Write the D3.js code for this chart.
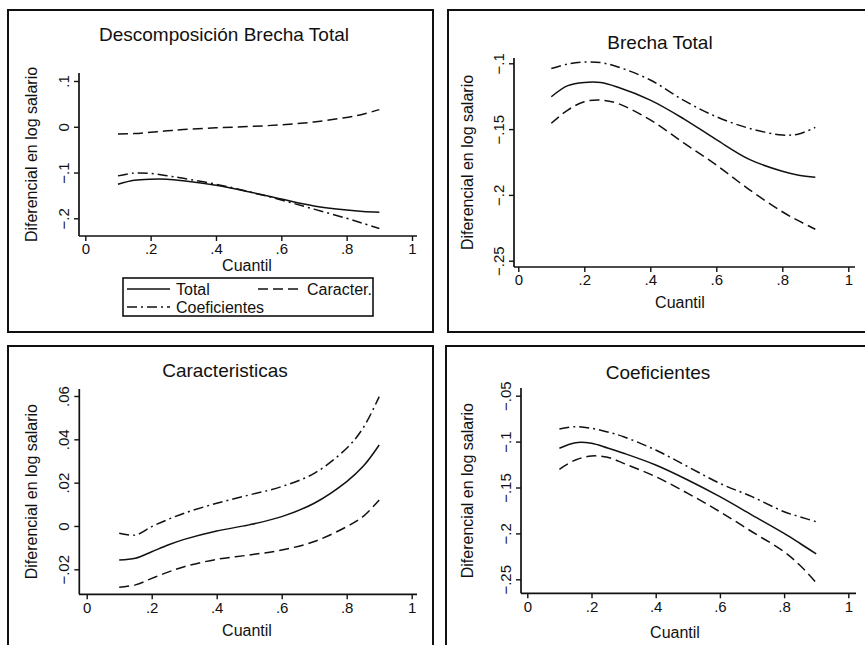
<!DOCTYPE html>
<html>
<head>
<meta charset="utf-8">
<script src="https://cdn.jsdelivr.net/npm/d3@7"></script>
<style>
  body { margin: 0; background: #fff; }
  text { font-family: "Liberation Sans", Arial, sans-serif; fill: #111; }
</style>
</head>
<body>
<div id="viz"></div>
<script>
// quantiles at which the curves were read
const quantiles = [0.1, 0.15, 0.2, 0.25, 0.3, 0.4, 0.5, 0.6, 0.7, 0.8, 0.85, 0.9];

// Brecha Total
const brechaEst   = [-0.1254, -0.117, -0.1145, -0.1146, -0.118, -0.128, -0.142, -0.158, -0.173, -0.182, -0.185, -0.1866];
const brechaUpper = [-0.104, -0.1005, -0.099, -0.0995, -0.1026, -0.1127, -0.128, -0.1406, -0.1494, -0.1545, -0.1537, -0.1487];
const brechaLower = [-0.1456, -0.1355, -0.1292, -0.128, -0.1304, -0.143, -0.1603, -0.1773, -0.196, -0.2128, -0.2198, -0.2261];

// Caracteristicas
const caracEst   = [-0.0157, -0.0149, -0.0119, -0.0088, -0.0062, -0.0023, 0.0005, 0.0043, 0.0105, 0.0205, 0.0274, 0.0374];
const caracUpper = [-0.0034, -0.0042, -0.0003, 0.003, 0.0059, 0.0105, 0.0143, 0.0182, 0.0243, 0.0359, 0.0451, 0.0597];
const caracLower = [-0.0283, -0.0272, -0.0242, -0.0213, -0.0188, -0.0154, -0.0134, -0.0111, -0.0072, -0.0003, 0.0043, 0.012];

// Coeficientes
const coefEst   = [-0.1073, -0.1012, -0.1019, -0.107, -0.1127, -0.1255, -0.1418, -0.16, -0.18, -0.2, -0.211, -0.2224];
const coefUpper = [-0.0863, -0.0838, -0.0855, -0.0895, -0.0947, -0.1092, -0.1273, -0.1455, -0.16, -0.1764, -0.182, -0.1873];
const coefLower = [-0.1302, -0.12, -0.1157, -0.1171, -0.1237, -0.1382, -0.1564, -0.1764, -0.1982, -0.22, -0.235, -0.2537];

// tick labels
const xTicks = [0, 0.2, 0.4, 0.6, 0.8, 1];
const yTicksDescomp = [-0.2, -0.1, 0, 0.1];
const yTicksBrecha = [-0.25, -0.2, -0.15, -0.1];
const yTicksCarac = [-0.02, 0, 0.02, 0.04, 0.06];
const yTicksCoef = [-0.25, -0.2, -0.15, -0.1, -0.05];

const legendLabels = ['Total', 'Caracter.', 'Coeficientes'];

const width = 865;
const height = 645;

const dashes = {
    solid: null,
    dash: '10,5',
    dashdot: '10,4,2,4'
};

const svg = d3.select('#viz')
    .append('svg')
    .attr('width', width)
    .attr('height', height);

function fmt(v) {
    // stata style: -.1, .05, 0
    if (v === 0) return '0';
    let s = Math.abs(v).toString().replace(/^0/, '');
    return (v < 0 ? '\u2212' : '') + s;
}

function buildPanel(p) {
    const g = svg.append('g');

    // frame
    g.append('rect')
        .attr('x', p.frame[0])
        .attr('y', p.frame[1])
        .attr('width', p.frame[2] - p.frame[0])
        .attr('height', p.frame[3] - p.frame[1])
        .attr('fill', 'none')
        .attr('stroke', '#111')
        .attr('stroke-width', 2);

    const x = d3.scaleLinear().domain([0, 1]).range(p.xRange);
    const y = d3.scaleLinear()
        .domain([p.yTicks[0], p.yTicks[p.yTicks.length - 1]])
        .range(p.yRange);

    // y axis
    const yAxis = d3.axisLeft(y)
        .tickValues(p.yTicks)
        .tickFormat(fmt)
        .tickSize(5)
        .tickSizeOuter(0);

    const ya = g.append('g')
        .attr('transform', `translate(${p.axisX},0)`)
        .call(yAxis);
    ya.select('.domain').remove();
    ya.selectAll('line').attr('stroke', '#111').attr('stroke-width', 1.4);
    ya.selectAll('text')
        .attr('transform', 'rotate(-90)')
        .attr('x', 0)
        .attr('y', -10)
        .attr('dy', 0)
        .attr('text-anchor', 'middle')
        .style('font-size', '15px')
        .style('font-family', '"Liberation Sans", Arial, sans-serif')
        .attr('fill', '#111');

    g.append('line')
        .attr('x1', p.axisX).attr('x2', p.axisX)
        .attr('y1', p.yLine[0]).attr('y2', p.yLine[1])
        .attr('stroke', '#111').attr('stroke-width', 1.7);

    // x axis
    const xAxis = d3.axisBottom(x)
        .tickValues(xTicks)
        .tickFormat(fmt)
        .tickSize(5)
        .tickSizeOuter(0);

    const xa = g.append('g')
        .attr('transform', `translate(0,${p.axisY})`)
        .call(xAxis);
    xa.select('.domain').remove();
    xa.selectAll('line').attr('stroke', '#111').attr('stroke-width', 1.4);
    xa.selectAll('text')
        .attr('y', 7)
        .attr('dy', '0.75em')
        .style('font-size', '15px')
        .style('font-family', '"Liberation Sans", Arial, sans-serif')
        .attr('fill', '#111');

    g.append('line')
        .attr('x1', p.xLine[0]).attr('x2', p.xLine[1])
        .attr('y1', p.axisY).attr('y2', p.axisY)
        .attr('stroke', '#111').attr('stroke-width', 1.7);

    // titles
    g.append('text')
        .attr('x', p.titlePos[0])
        .attr('y', p.titlePos[1])
        .attr('text-anchor', 'middle')
        .style('font-size', '19px')
        .text(p.title);

    g.append('text')
        .attr('x', p.cuantilPos[0])
        .attr('y', p.cuantilPos[1])
        .attr('text-anchor', 'middle')
        .style('font-size', '16px')
        .text('Cuantil');

    g.append('text')
        .attr('transform', `translate(${p.yTitleX},${(p.yLine[0] + p.yLine[1]) / 2}) rotate(-90)`)
        .attr('text-anchor', 'middle')
        .style('font-size', '16px')
        .text('Diferencial en log salario');

    const line = d3.line()
        .x(d => x(d[0]))
        .y(d => y(d[1]))
        .curve(d3.curveCatmullRom.alpha(0.5));

    p.series.forEach(s => {
        g.append('path')
            .datum(quantiles.map((q, i) => [q, s.values[i]]))
            .attr('fill', 'none')
            .attr('stroke', '#111')
            .attr('stroke-width', 1.5)
            .attr('stroke-dasharray', dashes[s.style])
            .attr('d', line);
    });

    return g;
}

const p1 = buildPanel({
    frame: [8, 10, 433, 332],
    title: 'Descomposición Brecha Total',
    titlePos: [224, 41],
    cuantilPos: [247, 271],
    yTitleX: 37,
    axisX: 79, yLine: [73, 236], yTicks: yTicksDescomp, yRange: [218.3, 81],
    axisY: 236, xLine: [79, 417], xRange: [85.3, 412],
    series: [
        { values: brechaEst, style: 'solid' },
        { values: caracEst, style: 'dash' },
        { values: coefEst, style: 'dashdot' }
    ]
});

// legend of the first panel
const legend = p1.append('g');
legend.append('rect')
    .attr('x', 123).attr('y', 278)
    .attr('width', 250).attr('height', 38)
    .attr('fill', 'none')
    .attr('stroke', '#111')
    .attr('stroke-width', 1.6);

const legendItems = [
    { label: legendLabels[0], style: 'solid', x: 127, y: 289 },
    { label: legendLabels[1], style: 'dash', x: 258, y: 289 },
    { label: legendLabels[2], style: 'dashdot', x: 127, y: 307 }
];
legendItems.forEach(d => {
    legend.append('line')
        .attr('x1', d.x).attr('x2', d.x + 43)
        .attr('y1', d.y).attr('y2', d.y)
        .attr('stroke', '#111')
        .attr('stroke-width', 1.5)
        .attr('stroke-dasharray', dashes[d.style]);
    legend.append('text')
        .attr('x', d.x + 49)
        .attr('y', d.y + 6)
        .style('font-size', '16px')
        .text(d.label);
});

buildPanel({
    frame: [448, 10, 872, 332],
    title: 'Brecha Total',
    titlePos: [660, 49],
    cuantilPos: [680, 308],
    yTitleX: 473,
    axisX: 514, yLine: [58, 267], yTicks: yTicksBrecha, yRange: [260.7, 63.3],
    axisY: 267, xLine: [514, 855], xRange: [518.3, 848.3],
    series: [
        { values: brechaEst, style: 'solid' },
        { values: brechaUpper, style: 'dashdot' },
        { values: brechaLower, style: 'dash' }
    ]
});

buildPanel({
    frame: [8, 346, 433, 652],
    title: 'Caracteristicas',
    titlePos: [225, 377],
    cuantilPos: [247, 636],
    yTitleX: 37,
    axisX: 79.3, yLine: [389, 594.3], yTicks: yTicksCarac, yRange: [569.3, 396],
    axisY: 594.3, xLine: [79, 417], xRange: [86.7, 411.7],
    series: [
        { values: caracEst, style: 'solid' },
        { values: caracUpper, style: 'dashdot' },
        { values: caracLower, style: 'dash' }
    ]
});

buildPanel({
    frame: [446, 346, 872, 652],
    title: 'Coeficientes',
    titlePos: [658, 379],
    cuantilPos: [675, 638],
    yTitleX: 473,
    axisX: 521, yLine: [388, 593.3], yTicks: yTicksCoef, yRange: [579.3, 395.7],
    axisY: 593.3, xLine: [521, 856], xRange: [527.3, 848.3],
    series: [
        { values: coefEst, style: 'solid' },
        { values: coefUpper, style: 'dashdot' },
        { values: coefLower, style: 'dash' }
    ]
});
</script>
</body>
</html>
